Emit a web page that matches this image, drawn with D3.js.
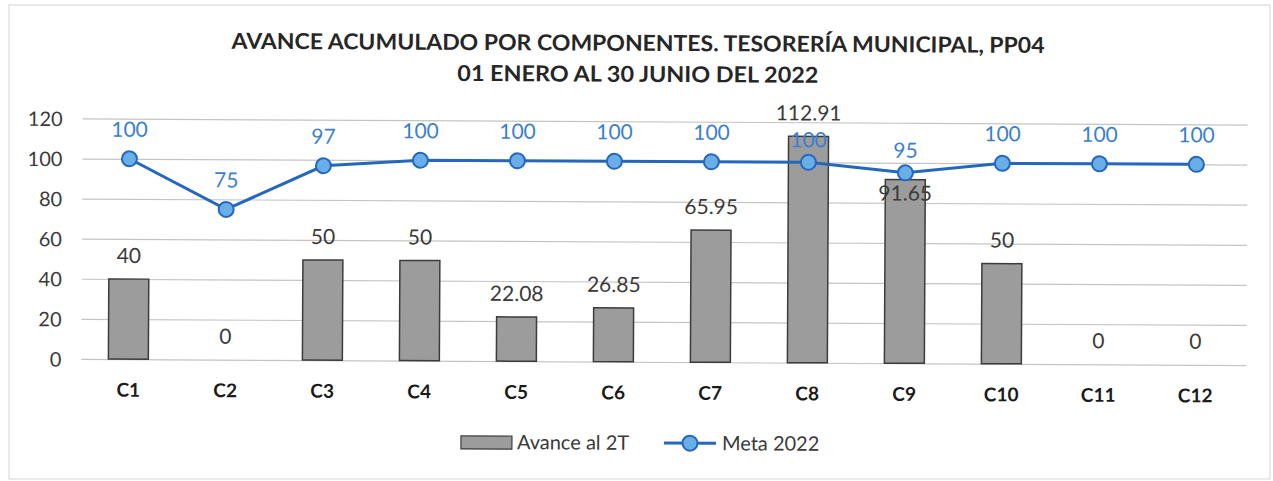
<!DOCTYPE html>
<html>
<head>
<meta charset="utf-8">
<script src="https://cdn.jsdelivr.net/npm/d3@7"></script>
<style>
  html, body { margin: 0; padding: 0; background: #ffffff; }
  svg { display: block; }
  text { font-family: Lato, "Open Sans", sans-serif; }
</style>
</head>
<body>
<svg id="chart" width="1273" height="481"></svg>
<script>
const categories = ["C1","C2","C3","C4","C5","C6","C7","C8","C9","C10","C11","C12"];
const avance = [40, 0, 50, 50, 22.08, 26.85, 65.95, 112.91, 91.65, 50, 0, 0];
const meta = [100, 75, 97, 100, 100, 100, 100, 100, 95, 100, 100, 100];
const yTicks = [0, 20, 40, 60, 80, 100, 120];
const titleLines = ["AVANCE ACUMULADO POR COMPONENTES. TESORERÍA MUNICIPAL, PP04", "01 ENERO AL 30 JUNIO DEL 2022"];
const seriesNames = ["Avance al 2T", "Meta 2022"];

const W = 1273, H = 481;
const svg = d3.select("#chart");

// outer frame
svg.append("rect").attr("x", 9).attr("y", 5).attr("width", 1261).attr("height", 474)
  .attr("fill", "none").attr("stroke", "#d6d6d6").attr("stroke-width", 1);

const root = svg.append("g").attr("transform", "rotate(0.3, 666, 240)");

const x = d3.scaleBand().domain(categories).range([80.5, 1244.5])
  .paddingInner(0.588).paddingOuter(0.294);
const y = d3.scaleLinear().domain([0, 120]).range([362, 121.5]);
const cx = i => x(categories[i]) + x.bandwidth() / 2;

// title
const titleW = [813, 361];
root.selectAll("text.title").data(titleLines).join("text")
  .attr("class", "title")
  .attr("x", 637).attr("y", (d, i) => 51 + i * 31)
  .attr("text-anchor", "middle")
  .attr("font-size", 22).attr("font-weight", 700).attr("fill", "#262626")
  .attr("textLength", (d, i) => titleW[i]).attr("lengthAdjust", "spacingAndGlyphs")
  .text(d => d);

// gridlines
const yAxis = d3.axisLeft(y).tickValues(yTicks).tickSize(-(1247 - 82)).tickPadding(20);
const gy = root.append("g").attr("transform", "translate(82,0)").call(yAxis);
gy.select(".domain").remove();
gy.selectAll(".tick line").attr("stroke", "#c4c4c4").attr("stroke-width", 1.2);
gy.selectAll(".tick text").attr("font-size", 20).attr("fill", "#3a3a3a")
  .attr("font-family", "Lato, sans-serif").attr("dy", "0.36em");

// x axis labels
const xAxis = d3.axisBottom(x).tickSize(0).tickPadding(24);
const gx = root.append("g").attr("transform", `translate(0,${y(0)})`).call(xAxis);
gx.select(".domain").remove();
gx.selectAll(".tick text").attr("font-size", 19).attr("font-weight", 700)
  .attr("fill", "#1a1a1a").attr("font-family", "Lato, sans-serif");

// bars
root.selectAll("rect.bar").data(avance).join("rect")
  .attr("class", "bar")
  .attr("x", (d, i) => x(categories[i]))
  .attr("width", x.bandwidth())
  .attr("y", d => y(d))
  .attr("height", d => y(0) - y(d))
  .attr("fill", "#9c9c9c").attr("stroke", "#3c3c3c").attr("stroke-width", 1.5)
  .style("display", d => d > 0 ? null : "none");

// line
const line = d3.line().x((d, i) => cx(i)).y(d => y(d));
root.append("path").datum(meta).attr("d", line)
  .attr("fill", "none").attr("stroke", "#2468bd").attr("stroke-width", 3);
root.selectAll("circle.pt").data(meta).join("circle")
  .attr("class", "pt")
  .attr("cx", (d, i) => cx(i))
  .attr("cy", d => y(d)).attr("r", 7.5)
  .attr("fill", "#6aaee8").attr("stroke", "#2468bd").attr("stroke-width", 2);

// bar labels
root.selectAll("text.blabel").data(avance).join("text")
  .attr("class", "blabel")
  .attr("x", (d, i) => cx(i))
  .attr("y", (d, i) => {
    const gap = meta[i] - d;
    return (gap > 0 && gap < 15) ? y(d) + 21 : y(d) - 16;
  })
  .attr("text-anchor", "middle").attr("font-size", 21).attr("fill", "#3a3a3a")
  .text(d => d);

// line labels (closer to the point when a bar reaches near the line)
root.selectAll("text.llabel").data(meta).join("text")
  .attr("class", "llabel")
  .attr("x", (d, i) => cx(i))
  .attr("y", (d, i) => y(d) - (Math.abs(d - avance[i]) < 15 ? 15 : 22))
  .attr("text-anchor", "middle").attr("font-size", 21).attr("fill", "#3a80cf")
  .text(d => d);

// legend
const lg = root.append("g");
lg.append("rect").attr("x", 462).attr("y", 437).attr("width", 51).attr("height", 13)
  .attr("fill", "#9c9c9c").attr("stroke", "#3c3c3c").attr("stroke-width", 1.2);
lg.append("text").attr("x", 518).attr("y", 450).attr("font-size", 20).attr("fill", "#3a3a3a")
  .text(seriesNames[0]);
lg.append("line").attr("x1", 665).attr("x2", 717).attr("y1", 443).attr("y2", 443)
  .attr("stroke", "#2468bd").attr("stroke-width", 3);
lg.append("circle").attr("cx", 691).attr("cy", 443).attr("r", 7.5)
  .attr("fill", "#6aaee8").attr("stroke", "#2468bd").attr("stroke-width", 2);
lg.append("text").attr("x", 723).attr("y", 450).attr("font-size", 20).attr("fill", "#3a3a3a")
  .text(seriesNames[1]);
</script>
</body>
</html>
